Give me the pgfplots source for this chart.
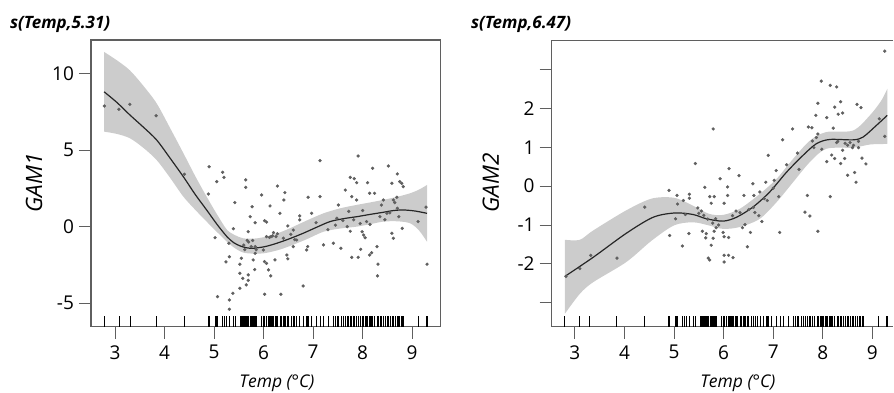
\documentclass[border=0pt]{standalone}
\usepackage{pgfplots}
\pgfplotsset{compat=1.18}
\usepackage{pgfplotstable}
\usepgfplotslibrary{fillbetween}
\usepackage{fontspec}
\setmainfont{Open Sans}
\definecolor{bandgray}{RGB}{204,204,204}
\definecolor{ptgray}{RGB}{95,95,95}
\definecolor{axgray}{RGB}{95,95,95}
\pgfdeclareplotmark{rug}{\pgfpathmoveto{\pgfpointorigin}\pgfpathlineto{\pgfpoint{0pt}{11pt}}\pgfusepathqstroke}

\pgfplotstableread{
x y
2.785 7.87
3.08 7.66
3.30 7.98
3.83 7.24
4.40 3.42
4.90 3.91
4.885 2.13
5.055 2.94
5.175 3.55
5.20 3.22
5.02 -0.72
5.07 -4.57
5.31 -4.78
5.31 -5.39
5.38 -4.35
5.31 -1.96
5.24 -2.30
5.30 -1.08
5.39 -0.13
5.42 1.57
5.64 3.05
5.64 2.57
5.77 1.30
5.73 0.65
5.69 -0.33
5.67 -0.90
5.55 -2.06
5.52 -2.45
5.52 -3.04
5.58 -3.37
5.69 -3.15
5.69 -3.50
5.65 -3.80
5.52 -4.02
5.79 -2.17
5.83 -1.74
5.83 -1.30
5.82 -2.80
5.83 0.26
5.96 2.07
6.02 0.39
6.06 0.30
5.995 -1.52
6.02 -2.28
6.06 -2.40
6.10 -2.82
6.145 -3.21
6.02 -4.41
6.06 -0.65
6.15 -0.65
6.20 -0.39
6.13 1.35
6.28 2.65
6.28 -0.46
6.33 0.87
6.23 -2.17
6.35 -4.41
6.43 2.22
6.41 1.74
6.49 0.05
6.47 -1.85
6.49 -2.10
6.60 -0.22
6.60 -1.30
6.63 -0.85
6.67 -0.87
6.73 0.44
6.73 0.70
6.80 -3.87
6.87 -1.52
6.89 -1.30
6.90 1.92
6.97 0.87
7.14 4.31
7.14 1.96
7.06 0.26
7.21 -1.19
7.41 -1.08
7.51 1.41
7.48 0.55
7.56 -1.41
7.65 2.39
7.75 3.22
7.83 3.13
7.88 2.87
7.78 1.96
7.88 1.74
7.91 4.61
7.72 1.00
7.69 0.00
7.75 -0.30
7.78 -2.00
7.91 -2.00
7.96 -1.48
7.99 -0.33
8.02 -0.55
8.05 -0.72
8.08 0.33
8.10 2.87
8.14 2.18
8.20 3.81
8.24 2.18
8.14 -1.85
8.18 -1.70
8.31 -2.45
8.30 -3.21
8.29 -1.30
8.35 0.65
8.38 1.41
8.42 1.74
8.49 0.87
8.52 3.96
8.59 2.83
8.62 1.74
8.65 1.57
8.59 -0.43
8.62 -0.76
8.69 1.92
8.70 3.44
8.75 2.94
8.79 2.83
8.82 2.61
8.73 0.65
8.80 -0.11
9.12 0.33
9.28 1.27
9.30 -2.45
5.60 -1.20
5.70 -1.00
5.75 -1.30
5.85 -1.50
5.62 -1.50
5.78 -0.90
6.12 -0.70
6.18 -0.60
6.25 -0.65
6.40 -0.75
6.55 -0.50
7.30 -0.20
7.45 0.10
7.60 0.40
7.95 0.20
8.15 0.15
8.45 0.45
8.55 0.90
8.00 1.05
8.70 1.20
7.82 0.45
}\ptsA

\pgfplotstableread{
x y
2.78 8.80
3.04 8.10
3.30 7.29
3.57 6.50
3.84 5.66
4.11 4.48
4.38 3.26
4.62 2.10
4.85 1.09
5.06 0.15
5.26 -0.65
5.40 -1.05
5.53 -1.26
5.66 -1.38
5.79 -1.41
6.03 -1.30
6.27 -1.08
6.53 -0.78
6.80 -0.43
7.07 -0.04
7.34 0.33
7.61 0.52
7.88 0.65
8.15 0.80
8.42 0.94
8.62 1.05
8.82 1.09
9.06 1.02
9.30 0.87
}\fitA

\pgfplotstableread{
x lo up
2.78 6.20 11.40
3.04 6.05 10.85
3.30 5.77 10.20
3.57 5.15 9.20
3.84 4.35 8.05
4.11 3.20 6.45
4.38 1.96 4.80
4.62 1.10 3.30
4.85 0.33 1.96
5.06 -0.35 0.80
5.26 -0.98 -0.20
5.42 -1.40 -0.55
5.59 -1.69 -0.76
5.80 -1.76 -0.78
6.00 -1.74 -0.69
6.27 -1.55 -0.45
6.535 -1.26 -0.10
6.87 -0.82 0.40
7.21 -0.33 0.87
7.55 -0.12 1.20
7.88 0.00 1.42
8.15 0.16 1.58
8.42 0.33 1.75
8.70 0.35 1.95
8.96 0.22 2.18
9.14 -0.25 2.42
9.30 -0.98 2.72
}\bandA

\pgfplotstableread{
x y
2.82 -2.32
3.10 -2.12
3.32 -1.78
3.85 -1.85
4.41 -0.54
4.90 -0.11
4.91 -1.27
5.03 -0.84
5.07 -0.46
5.06 -0.24
5.17 -1.54
5.19 -0.37
5.30 -1.22
5.31 -0.21
5.31 -0.31
5.23 -0.73
5.43 0.58
5.48 -0.56
5.55 -0.64
5.57 -1.16
5.62 -0.03
5.65 -1.22
5.64 -1.33
5.69 -1.85
5.72 -1.90
5.72 -0.27
5.75 -0.44
5.79 1.47
5.81 -0.27
5.75 -1.52
5.79 -1.34
5.81 -1.16
5.85 -1.07
5.84 -0.84
5.93 0.19
5.99 -1.19
6.01 -0.44
6.01 -1.30
6.01 -1.95
6.01 -1.78
6.10 -1.78
6.11 0.45
6.10 -1.32
6.08 -0.02
6.08 -0.24
6.19 -1.84
6.18 -0.76
6.25 -0.64
6.31 0.27
6.33 -0.68
6.38 -1.07
6.41 -0.24
6.43 -0.99
6.48 -1.56
6.51 -0.60
6.54 -1.19
6.59 0.06
6.61 -0.24
6.63 -0.68
6.71 -0.76
6.77 -0.91
6.73 -0.15
6.82 -0.32
6.85 0.10
6.90 0.79
6.88 -0.37
7.02 0.15
7.06 0.40
7.11 -0.27
7.13 -1.19
7.19 1.19
7.27 0.55
7.39 1.47
7.49 0.85
7.52 0.43
7.64 -0.67
7.69 -0.24
7.74 -0.77
7.71 1.52
7.78 1.50
7.79 1.16
7.82 0.99
7.87 1.25
7.86 1.82
7.90 2.13
7.90 1.34
7.90 -1.16
7.97 2.70
7.98 0.95
8.08 1.76
8.08 0.63
8.15 -0.27
8.15 2.59
8.28 2.55
8.18 0.80
8.21 1.49
8.24 0.71
8.24 2.03
8.28 1.12
8.31 1.85
8.36 2.17
8.36 0.58
8.40 1.88
8.40 0.92
8.44 0.71
8.50 0.28
8.50 1.05
8.60 0.99
8.64 0.35
8.67 0.10
8.69 2.10
8.77 2.02
8.72 0.99
8.79 0.72
8.87 0.57
9.25 3.47
9.25 1.28
9.14 1.73
8.30 1.15
8.45 1.10
8.55 1.12
8.62 1.05
8.72 1.15
5.60 -0.75
5.68 -0.85
5.78 -0.95
5.90 -1.00
5.50 -0.70
6.60 -0.55
7.00 -0.05
}\ptsB

\pgfplotstableread{
x y
2.80 -2.32
3.37 -1.83
4.04 -1.21
4.58 -0.80
5.02 -0.69
5.385 -0.73
5.655 -0.84
5.99 -0.90
6.26 -0.80
6.59 -0.54
6.93 -0.15
7.27 0.36
7.60 0.79
7.87 1.09
8.14 1.20
8.61 1.19
8.81 1.26
9.08 1.56
9.30 1.82
}\fitB

\pgfplotstableread{
x lo up
2.80 -3.28 -1.38
3.10 -2.77 -1.38
3.37 -2.47 -1.14
4.04 -1.95 -0.62
4.55 -1.40 -0.32
5.00 -1.01 -0.30
5.38 -0.93 -0.50
5.70 -1.01 -0.71
5.99 -1.10 -0.74
6.33 -1.05 -0.58
6.73 -0.84 -0.20
7.07 -0.41 0.19
7.40 0.10 0.70
7.74 0.62 1.17
8.07 0.96 1.39
8.61 0.99 1.43
8.95 1.07 1.82
9.18 1.08 2.20
9.30 1.09 2.50
}\bandB

\pgfplotsset{
  gamstyle/.style={
    scale only axis,
    anchor=south west,
    tick align=outside,
    major tick length=12pt,
    tick style={color=axgray, line width=0.9pt},
    axis line style={axgray, line width=1.1pt},
    xtick pos=bottom, ytick pos=left,
    xtick={3,4,5,6,7,8,9},
    /pgf/number format/assume math mode=true,
    tick label style={font=\fontsize{19}{19}\selectfont},
    yticklabel style={anchor=east, xshift=-1.5pt},
    xticklabel style={yshift=-3pt},
  }
}

\begin{document}
\begin{tikzpicture}
\path (0,0) rectangle (894pt,393pt);

% ---------- left panel ----------
\begin{axis}[gamstyle,
  at={(91pt,66pt)}, width=350pt, height=287pt,
  xmin=2.515, xmax=9.58, ymin=-6.54, ymax=12.18,
  ytick={-5,0,5,10},
]
\addplot[name path=upA, draw=none, smooth] table[x=x, y=up] {\bandA};
\addplot[name path=loA, draw=none, smooth] table[x=x, y=lo] {\bandA};
\addplot[bandgray, draw=none] fill between[of=upA and loA];
\addplot[only marks, mark=*, mark size=1.45pt, ptgray, mark options={draw=none, fill=ptgray}] table[x=x, y=y] {\ptsA};
\addplot[black!85, line width=1.2pt, smooth] table[x=x, y=y] {\fitA};
\addplot[only marks, mark=rug, black, line width=0.6pt] table[x=x, y expr=-6.54] {\ptsA};
\end{axis}

% ---------- right panel ----------
\begin{axis}[gamstyle,
  at={(551.7pt,66pt)}, width=342pt, height=286.7pt,
  xmin=2.53, xmax=9.425, ymin=-3.62, ymax=3.75,
  axis x line*=bottom, axis y line*=left,
  ytick={-3,-2,-1,0,1,2,3},
  yticklabels={,-2,-1,0,1,2,},
]
\addplot[name path=upB, draw=none, smooth] table[x=x, y=up] {\bandB};
\addplot[name path=loB, draw=none, smooth] table[x=x, y=lo] {\bandB};
\addplot[bandgray, draw=none] fill between[of=upB and loB];
\addplot[only marks, mark=*, mark size=1.45pt, ptgray, mark options={draw=none, fill=ptgray}] table[x=x, y=y] {\ptsB};
\addplot[black!85, line width=1.2pt, smooth] table[x=x, y=y] {\fitB};
\addplot[only marks, mark=rug, black, line width=0.6pt] table[x=x, y expr=-3.62] {\ptsA};
\draw[axgray, line width=1.1pt] (rel axis cs:0,1) -- (rel axis cs:1,1);
\end{axis}

% ---------- texts ----------
\node[anchor=base west, inner sep=0pt] at (10pt,364pt) {\fontsize{17}{17}\selectfont\bfseries\itshape s(Temp,5.31)};
\node[anchor=base west, inner sep=0pt] at (471pt,364pt) {\fontsize{17}{17}\selectfont\bfseries\itshape s(Temp,6.47)};
\node[rotate=90, inner sep=0pt] at (34pt,210pt) {\fontsize{22.5}{22.5}\selectfont\itshape GAM1};
\node[rotate=90, inner sep=0pt] at (491pt,210pt) {\fontsize{22.5}{22.5}\selectfont\itshape GAM2};
\node[anchor=base, inner sep=0pt] at (277pt,5pt) {\fontsize{17.5}{17.5}\selectfont\itshape Temp (°C)};
\node[anchor=base, inner sep=0pt] at (738pt,5pt) {\fontsize{17.5}{17.5}\selectfont\itshape Temp (°C)};
\end{tikzpicture}
\end{document}
